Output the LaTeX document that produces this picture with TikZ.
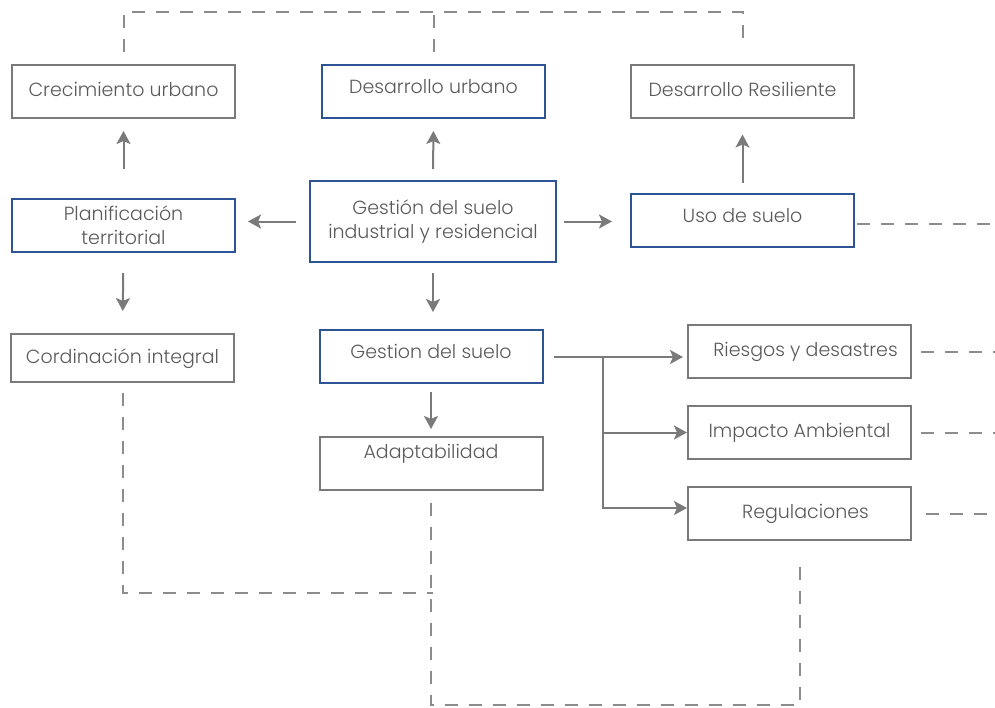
\documentclass[tikz,border=0pt]{standalone}
\usepackage{fontspec}
\setmainfont{Poppins}[UprightFont=* Light]
\usetikzlibrary{arrows.meta}

\definecolor{linegray}{HTML}{7A7A7A}
\definecolor{dashgray}{HTML}{8C8C8C}
\definecolor{textgray}{HTML}{5A5A5A}
\definecolor{frameblue}{HTML}{2F5496}

\begin{document}
\begin{tikzpicture}[x=0.5pt, y=-0.5pt, >={Stealth[length=6.5pt, width=7pt, inset=1.5pt]}, font=\fontsize{9.5}{12}\selectfont, text=textgray,
    box/.style={draw=linegray, line width=1pt, minimum width=111.5pt, minimum height=26.5pt, inner sep=0pt, align=center},
    single/.style={text height=7pt, text depth=2pt},
    raised/.style={text height=7pt, text depth=5.5pt},
    bluebox/.style={box, draw=frameblue},
    link/.style={->, draw=linegray, line width=1pt},
    relation/.style={draw=dashgray, line width=1pt, dash pattern=on 6.5pt off 5.5pt}]
    \useasboundingbox (0,0) rectangle (995,707);

    % Nodes {top row, middle row, lower rows, right column}
    \node [box, single]     (cu) at (123.5,91.5)  {Crecimiento urbano};
    \node [bluebox, raised] (du) at (433.5,91.5)  {Desarrollo urbano};
    \node [box, single]     (dr) at (742.5,91)    {Desarrollo Resiliente};
    \node [bluebox]         (pt) at (123.5,225.5) {Planificación\\territorial};
    \node [bluebox, minimum width=123pt, minimum height=40.5pt]
                            (gs) at (433,221.5)   {Gestión del suelo\\industrial y residencial};
    \node [bluebox, raised] (us) at (742.5,220.5) {Uso de suelo};
    \node [box, single, minimum height=24pt]
                            (ci) at (122.5,358)   {Cordinación integral};
    \node [bluebox, raised] (gd) at (431,356.5)   {Gestion del suelo};
    \node [box, single, text depth=12.5pt]
                            (ad) at (431,463.5)   {Adaptabilidad};
    \node [box, single]     (rd) at (799.5,351.5) {\hspace{6pt}Riesgos y desastres};
    \node [box, single]     (ia) at (799.5,432.5) {Impacto Ambiental};
    \node [box, single]     (re) at (799.5,513.5) {\hspace{6pt}Regulaciones};

    % Helper points
    \coordinate (tr)   at (742.5,12);
    \coordinate (bl)   at (433,593);
    \coordinate (br)   at (799.5,705);
    \coordinate (fork) at (603,357);
    \coordinate (edge) at (995,0);

    % Arrows
    \draw [link, shorten <=14.5pt, shorten >=6pt]  (pt.north) -- (cu.south);
    \draw [link, shorten <=5.5pt, shorten >=6pt]   (gs.north) -- (du.south);
    \draw [link, shorten <=5pt, shorten >=8pt]     (us.north) -- (dr.south);
    \draw [link, shorten <=6.5pt, shorten >=6pt]   (gs.west)  -- (gs.west -| pt.east);
    \draw [link, shorten <=3.5pt, shorten >=9pt]   (gs.east)  -- (gs.east -| us.west);
    \draw [link, shorten <=10pt, shorten >=11pt]   (pt.south) -- (ci.north);
    \draw [link, shorten <=5pt, shorten >=8.5pt]   (gs.south) -- (gd.north -| gs.south);
    \draw [link, shorten <=4pt, shorten >=3.5pt]   (gd.south) -- (ad.north);
    \draw [link, shorten <=5pt, shorten >=2pt]     (gd.east |- fork) -- (fork -| rd.west);
    \draw [link] (fork) |- (ia.west);
    \draw [link] (fork) |- ([yshift=2.75pt]re.west);

    % Dashed relations
    \draw [relation] ([yshift=6pt]cu.north) |- (tr) -- ([yshift=12pt]dr.north);
    \draw [relation] ([yshift=6pt]du.north) -- (du.north |- tr);
    \draw [relation] ([yshift=-5pt]ci.south) |- (bl);
    \draw [relation] ([yshift=-6pt]ad.south) |- (br) -- ([yshift=-7.5pt]re.south);
    \draw [relation] ([xshift=1pt,yshift=-1.75pt]us.east) -- ([yshift=-1.75pt]us.east -| edge);
    \draw [relation] ([xshift=4.5pt]rd.east) -- (rd.east -| edge);
    \draw [relation] ([xshift=4.5pt]ia.east) -- (ia.east -| edge);
    \draw [relation] ([xshift=7pt]re.east) -- (re.east -| edge);

\end{tikzpicture}
\end{document}
